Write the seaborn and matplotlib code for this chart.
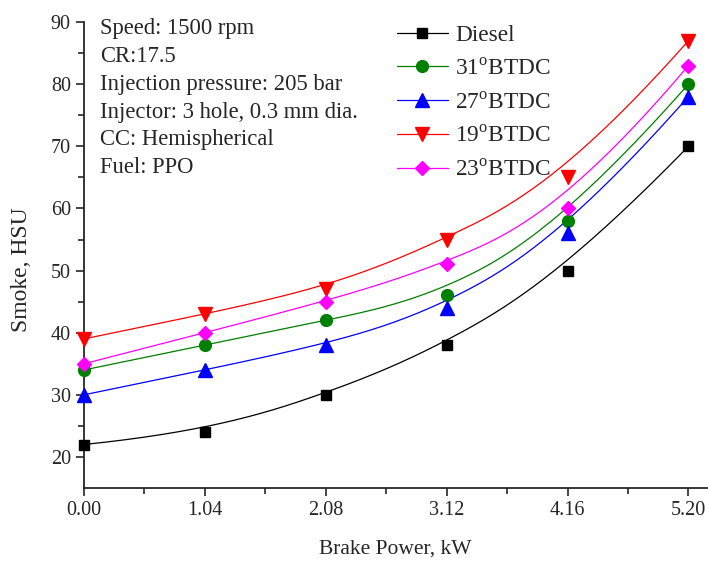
import numpy as np
import pandas as pd
import matplotlib
matplotlib.use('Agg')
import matplotlib.pyplot as plt
from matplotlib.lines import Line2D
import seaborn as sns

# Data
brake_power = [0.00, 1.04, 2.08, 3.12, 4.16, 5.20]
diesel = [22, 24, 30, 38, 50, 70]
btdc31 = [34, 38, 42, 46, 58, 80]
btdc27 = [30, 34, 38, 44, 56, 78]
btdc19 = [39, 43, 47, 55, 65, 87]
btdc23 = [35, 40, 45, 51, 60, 83]

labels = ['Diesel', r'31$^{\mathrm{o}}$BTDC', r'27$^{\mathrm{o}}$BTDC',
          r'19$^{\mathrm{o}}$BTDC', r'23$^{\mathrm{o}}$BTDC']
series = [diesel, btdc31, btdc27, btdc19, btdc23]
colors = ['black', 'green', 'blue', 'red', 'magenta']
markers = ['s', 'o', '^', 'v', 'D']
msizes = [7.5, 8.5, 9.5, 9.5, 7.5]

info = ['Speed: 1500 rpm', 'CR:17.5', 'Injection pressure: 205 bar',
        'Injector: 3 hole, 0.3 mm dia.', 'CC: Hemispherical', 'Fuel: PPO']

sns.set_style('ticks')
plt.rcParams['font.family'] = ['Liberation Serif', 'DejaVu Serif']
plt.rcParams['mathtext.fontset'] = 'custom'
plt.rcParams['mathtext.rm'] = 'Liberation Serif'


# clamped cubic B-spline through the data as control points (Origin "B-Spline" line)
def bspline(px, py, n=300, k=3):
    m = len(px)
    knots = np.concatenate([np.zeros(k), np.arange(m - k + 1), np.full(k, m - k)]).astype(float)
    t = np.linspace(0, m - k, n)
    t[-1] -= 1e-9

    def basis(i, d, t):
        if d == 0:
            return ((knots[i] <= t) & (t < knots[i + 1])).astype(float)
        out = np.zeros_like(t)
        den1 = knots[i + d] - knots[i]
        den2 = knots[i + d + 1] - knots[i + 1]
        if den1 > 0:
            out += (t - knots[i]) / den1 * basis(i, d - 1, t)
        if den2 > 0:
            out += (knots[i + d + 1] - t) / den2 * basis(i + 1, d - 1, t)
        return out

    B = np.array([basis(i, k, t) for i in range(m)])
    return B.T @ np.asarray(px, float), B.T @ np.asarray(py, float)


fig = plt.figure(figsize=(7.08, 5.62), dpi=100)
ax = fig.add_axes([0.1186, 0.1317, 0.88, 0.829])

handles = []
for lab, ys, col, mk, ms in zip(labels, series, colors, markers, msizes):
    sx, sy = bspline(brake_power, ys)
    curve = pd.DataFrame({'x': sx, 'y': sy})
    sns.lineplot(data=curve, x='x', y='y', color=col, lw=0.9, sort=False, ax=ax)
    pts = pd.DataFrame({'x': brake_power, 'y': ys})
    ax.plot(pts['x'], pts['y'], ls='none', marker=mk, color=col, ms=ms,
            clip_on=False, zorder=5)
    handles.append(Line2D([], [], color=col, lw=0.9, marker=mk, ms=ms))

ax.set_xlim(0, 5.36)
ax.set_ylim(15, 90)
ax.set_xticks(brake_power)
ax.set_xticklabels([f'{v:.2f}' for v in brake_power])
ax.set_xticks([0.52, 1.56, 2.60, 3.64, 4.68], minor=True)
ax.set_yticks(range(20, 91, 10))
ax.set_yticks(range(25, 90, 10), minor=True)
ax.tick_params(which='major', length=6, width=1.2, labelsize=14.5, direction='out')
ax.tick_params(which='minor', length=4, width=1.2, direction='out')
for s in ['left', 'bottom']:
    ax.spines[s].set_linewidth(1.3)
sns.despine(ax=ax)

ax.set_xlabel('Brake Power, kW', fontsize=15.5, labelpad=14)
ax.set_ylabel('Smoke, HSU', fontsize=17)
ax.yaxis.set_label_coords(-0.083, 0.468)

for i, t in enumerate(info):
    ax.text(0.026, 0.987 - i * 0.060, t, transform=ax.transAxes,
            fontsize=16.3, va='center', ha='left')

ax.legend(handles, labels, loc='upper left', bbox_to_anchor=(0.502, 0.995),
          frameon=False, fontsize=16.8, handlelength=2.2, handletextpad=0.3,
          labelspacing=0.53, borderpad=0, borderaxespad=0)

fig.savefig('out.png', dpi=100)
